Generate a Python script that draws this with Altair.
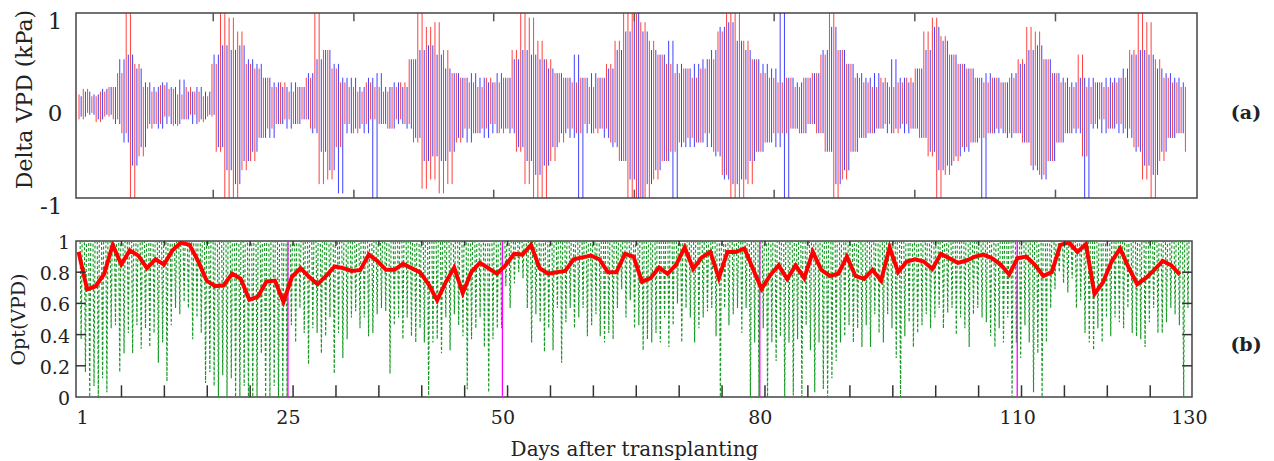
import altair as alt
import pandas as pd

FONT = "DejaVu Serif"

# ---- panel (a): Delta VPD, two values per day (peak, trough) ----
red_vpd = [
    0.12, -0.15, 0.18, -0.08, 0.1, -0.18, 0.15, -0.12, 0.2, -0.15,
    0.35, -0.3, 1.0, -1.0, 0.45, -0.55, 0.2, -0.25, 0.15, -0.2,
    0.22, -0.12, 0.18, -0.22, 0.12, -0.15, 0.2, -0.1, 0.15, -0.18,
    0.1, -0.12, 0.45, -0.5, 1.0, -1.0, 0.95, -1.0, 0.8, -0.7,
    0.45, -0.6, 0.4, -0.35, 0.3, -0.25, 0.2, -0.2, 0.25, -0.15,
    0.15, -0.2, 0.2, -0.15, 0.3, -0.25, 1.0, -0.85, 0.6, -0.8,
    0.4, -0.45, 0.25, -0.2, 0.2, -0.3, 0.15, -0.2, 0.25, -0.15,
    0.2, -0.2, 0.15, -0.25, 0.2, -0.15, 0.25, -0.2, 0.5, -0.4,
    1.0, -0.9, 0.85, -0.8, 0.9, -0.95, 0.6, -0.85, 0.35, -0.4,
    0.3, -0.25, 0.25, -0.3, 0.2, -0.25, 0.3, -0.2, 0.25, -0.3,
    0.3, -0.25, 0.6, -0.5, 1.0, -0.85, 0.95, -1.0, 0.7, -1.0,
    0.5, -0.6, 0.35, -0.4, 0.3, -0.25, 0.25, -0.3, 0.3, -0.2,
    0.2, -0.3, 0.3, -0.25, 0.45, -0.4, 0.7, -0.6, 1.0, -1.0,
    1.0, -1.0, 0.9, -1.0, 0.7, -0.8, 0.55, -0.6, 0.45, -0.5,
    0.35, -0.4, 0.4, -0.35, 0.3, -0.4, 0.4, -0.3, 0.5, -0.5,
    0.8, -0.75, 1.0, -1.0, 1.0, -1.0, 0.7, -0.85, 0.5, -0.5,
    0.35, -0.4, 0.3, -0.3, 0.25, -0.3, 0.3, -0.25, 0.2, -0.3,
    0.3, -0.2, 0.35, -0.3, 0.55, -0.5, 1.0, -1.0, 0.6, -0.8,
    0.45, -0.5, 0.3, -0.35, 0.25, -0.3, 0.2, -0.25, 0.3, -0.2,
    0.2, -0.3, 0.25, -0.2, 0.3, -0.25, 0.4, -0.35, 0.8, -0.55,
    0.95, -1.0, 0.75, -0.75, 0.55, -0.6, 0.45, -0.45, 0.4, -0.4,
    0.3, -0.35, 0.25, -0.3, 0.3, -0.25, 0.25, -0.3, 0.3, -0.3,
    0.5, -0.4, 0.85, -0.65, 0.8, -0.75, 0.5, -0.6, 0.35, -0.4,
    0.25, -0.3, 0.2, -0.25, 0.55, -0.55, 0.2, -0.2, 0.25, -0.15,
    0.2, -0.25, 0.25, -0.2, 0.3, -0.25, 0.6, -0.45, 1.0, -0.8,
    0.9, -1.0, 0.5, -0.6, 0.3, -0.35, 0.25, -0.3, 0.2, -0.5,
]
blue_vpd = [
    0.1, -0.12, 0.15, -0.1, 0.12, -0.15, 0.18, -0.1, 0.2, -0.2,
    0.5, -0.4, 0.55, -0.65, 0.4, -0.45, 0.25, -0.2, 0.2, -0.25,
    0.25, -0.2, 0.2, -0.2, 0.28, -0.15, 0.15, -0.2, 0.2, -0.15,
    0.15, -0.1, 0.55, -0.45, 0.65, -0.7, 0.6, -0.85, 0.65, -0.6,
    0.5, -0.5, 0.45, -0.35, 0.3, -0.35, 0.25, -0.2, 0.2, -0.25,
    0.25, -0.2, 0.2, -0.15, 0.35, -0.3, 0.5, -0.5, 0.6, -0.7,
    0.45, -0.95, 0.3, -0.3, 0.3, -0.25, 0.2, -0.3, 0.3, -1.0,
    0.35, -0.2, 0.2, -0.25, 0.25, -0.2, 0.2, -0.25, 0.5, -0.35,
    0.6, -0.6, 0.65, -0.55, 0.55, -0.6, 0.4, -0.5, 0.35, -0.35,
    0.3, -0.4, 0.35, -0.3, 0.3, -0.35, 0.25, -0.3, 0.35, -0.25,
    0.3, -0.3, 0.5, -0.45, 0.6, -0.6, 0.55, -0.75, 0.5, -0.65,
    0.4, -0.45, 0.35, -0.3, 0.3, -0.35, 0.55, -1.0, 0.3, -0.3,
    0.35, -0.25, 0.3, -0.35, 0.4, -0.45, 0.6, -0.6, 0.8, -0.8,
    1.0, -1.0, 0.8, -0.85, 0.6, -0.7, 0.55, -0.6, 0.7, -1.0,
    0.45, -0.45, 0.4, -0.45, 0.45, -0.4, 0.5, -0.45, 0.6, -0.55,
    0.85, -0.8, 0.9, -0.85, 0.7, -0.8, 0.6, -0.6, 0.5, -0.5,
    0.45, -0.4, 0.4, -0.45, 1.0, -1.0, 0.3, -0.25, 0.25, -0.3,
    0.3, -0.2, 0.35, -0.3, 0.6, -0.5, 0.85, -0.85, 0.6, -0.7,
    0.45, -0.5, 0.35, -0.35, 0.3, -0.3, 0.35, -0.25, 0.25, -0.3,
    0.5, -0.25, 0.3, -0.3, 0.25, -0.25, 0.4, -0.35, 0.6, -0.5,
    0.85, -0.7, 0.7, -0.65, 0.55, -0.55, 0.45, -0.5, 0.4, -0.4,
    0.3, -1.0, 0.35, -0.3, 0.3, -0.3, 0.25, -0.35, 0.35, -0.3,
    0.45, -0.4, 0.6, -0.7, 0.65, -0.8, 0.5, -0.6, 0.35, -0.4,
    0.3, -0.3, 0.25, -0.3, 0.3, -1.0, 0.3, -0.25, 0.25, -0.3,
    0.3, -0.25, 0.3, -0.3, 0.4, -0.35, 0.55, -0.5, 0.6, -0.65,
    0.55, -0.75, 0.4, -0.5, 0.35, -0.35, 0.3, -0.3, 0.25,
]

# ---- panel (b): Opt(VPD) dips, two per day ----
green_dips = [
    0.37, 0.16, 0.0, 0.07, 0.0, 0.12, 0.03, 0.44, 0.46, 0.16,
    0.28, 0.41, 0.28, 0.46, 0.31, 0.44, 0.32, 0.41, 0.22, 0.35,
    0.1, 0.46, 0.57, 0.53, 0.61, 0.57, 0.37, 0.51, 0.41, 0.09,
    0.16, 0.07, 0.0, 0.14, 0.0, 0.12, 0.0, 0.0, 0.07, 0.0,
    0.0, 0.0, 0.28, 0.0, 0.0, 0.07, 0.0, 0.0, 0.0,
    0.46, 0.35, 0.57, 0.41, 0.21, 0.44, 0.41, 0.28, 0.39, 0.51,
    0.15, 0.41, 0.25, 0.37, 0.51, 0.55, 0.44, 0.51, 0.39, 0.41,
    0.53, 0.57, 0.55, 0.15, 0.46, 0.51, 0.37, 0.51, 0.39, 0.35,
    0.44, 0.35, 0.01, 0.35, 0.37, 0.28, 0.51, 0.30, 0.53, 0.46,
    0.39, 0.05, 0.37, 0.44, 0.51, 0.32, 0.03, 0.37, 0.44,
    0.44, 0.71, 0.57, 0.73, 0.80, 0.76, 0.57, 0.35, 0.53, 0.48,
    0.29, 0.44, 0.30, 0.57, 0.22, 0.48, 0.57, 0.44, 0.51, 0.57,
    0.39, 0.46, 0.53, 0.39, 0.35, 0.41, 0.37, 0.57, 0.69, 0.51,
    0.62, 0.44,
    0.46, 0.30, 0.37, 0.35, 0.41, 0.35, 0.51, 0.32, 0.46, 0.60,
    0.35, 0.57, 0.51, 0.35, 0.44, 0.51, 0.55, 0.57, 0.39, 0.0,
    0.57, 0.46, 0.53, 0.57, 0.41, 0.57, 0.0, 0.35, 0.0, 0.44,
    0.0, 0.35, 0.23, 0.39, 0.0, 0.35, 0.01, 0.37, 0.0, 0.46,
    0.30, 0.03, 0.35, 0.05, 0.0, 0.12, 0.23, 0.35, 0.39, 0.46,
    0.35, 0.44, 0.32, 0.46, 0.32, 0.53, 0.41, 0.35, 0.53, 0.44,
    0.25, 0.0, 0.39, 0.48, 0.32, 0.41, 0.46, 0.53, 0.44, 0.51,
    0.57, 0.44, 0.54, 0.57, 0.40, 0.51, 0.44, 0.32, 0.53, 0.57,
    0.51, 0.48, 0.39, 0.32, 0.44, 0.35, 0.51, 0.0, 0.35, 0.25,
    0.46, 0.35, 0.03, 0.28, 0.0, 0.35, 0.57, 0.69, 0.80, 0.73,
    0.67, 0.76, 0.57, 0.62, 0.41, 0.35, 0.30, 0.44, 0.35, 0.51,
    0.39, 0.51, 0.48,
    0.44, 0.57, 0.41, 0.39, 0.37, 0.32, 0.48, 0.57, 0.41, 0.41,
    0.48, 0.57, 0.53, 0.46, 0.0, 0.57,
]
# daily mean Opt(VPD)
red_opt = [
    0.93, 0.69, 0.71, 0.79, 0.975, 0.85, 0.94, 0.906, 0.826, 0.883,
    0.849, 0.94, 0.99, 0.975, 0.872, 0.746, 0.711, 0.716, 0.79, 0.757,
    0.624, 0.643, 0.739, 0.746, 0.609, 0.77, 0.826, 0.77, 0.723, 0.776,
    0.837, 0.826, 0.808, 0.815, 0.913, 0.872, 0.815, 0.815, 0.853, 0.826,
    0.799, 0.723, 0.62, 0.735, 0.83, 0.666, 0.80, 0.86, 0.826, 0.79,
    0.844, 0.917, 0.913, 0.975, 0.826, 0.79, 0.80, 0.808, 0.883, 0.895,
    0.906, 0.883, 0.80, 0.80, 0.917, 0.90, 0.739, 0.762, 0.83, 0.79,
    0.849, 0.959, 0.821, 0.895, 0.93, 0.762, 0.93, 0.93, 0.952, 0.821,
    0.693, 0.78, 0.844, 0.757, 0.844, 0.762, 0.93, 0.815, 0.776, 0.79,
    0.90, 0.776, 0.757, 0.815, 0.746, 0.959, 0.80, 0.868, 0.883, 0.868,
    0.821, 0.917, 0.89, 0.86, 0.875, 0.90, 0.913, 0.89, 0.849, 0.785,
    0.89, 0.90, 0.849, 0.776, 0.80, 0.975, 0.99, 0.93, 0.98, 0.66,
    0.735, 0.868, 0.952, 0.83, 0.723, 0.762, 0.815, 0.872, 0.844, 0.785,
]

marker_days = [25, 50, 80, 110]
x_labels = [1, 25, 50, 80, 110, 130]
opt_labels = [0, 0.2, 0.4, 0.6, 0.8, 1]
opt_label_text = ["0", "0.2", "0.4", "0.6", "0.8", "1"]
top_tick_days = [16.3, 32.7, 49.0, 65.4, 81.7, 98.1, 114.5]
bottom_tick_days = [5.6, 10.6, 15.6, 20.6, 25.6, 30.6, 35.6, 40.6, 45.6, 50.6,
                    55.6, 60.6, 65.6, 70.6, 75.6, 80.6, 85.6, 90.5, 95.5, 100.5,
                    105.5, 110.5, 115.5, 120.5, 125.5]
opt_tick_vals = [0.2, 0.4, 0.6, 0.8]

X0, X1_TOP, X1_BOT = 0.3, 131.0, 130.37


# ---------------- tables ----------------
def swings(values, t0):
    """Vertical stroke between each pair of consecutive readings."""
    times = [t0 + 0.5 * i for i in range(len(values))]
    return pd.DataFrame({
        "t": [(times[k] + times[k + 1]) / 2 for k in range(len(values) - 1)],
        "v": values[:-1],
        "v2": values[1:],
    })


red_df = swings(red_vpd, 0.4)
blue_df = swings(blue_vpd, 0.65)

g_rows = []
for i, d in enumerate(green_dips):
    tc = 0.9 + 0.5 * i
    g_rows += [{"t": tc - 0.12, "v": 1.0}, {"t": tc, "v": d}, {"t": tc + 0.12, "v": 1.0}]
green_df = pd.DataFrame(g_rows)
ropt_df = pd.DataFrame({"t": [0.6 + 0.995 * i for i in range(len(red_opt))], "v": red_opt})

top_ticks = pd.DataFrame(
    [{"t": d, "v": 1.0, "v2": 0.91} for d in top_tick_days]
    + [{"t": d, "v": -1.0, "v2": -0.91} for d in top_tick_days]
)
bot_xticks = pd.DataFrame(
    [{"t": d, "v": 0.0, "v2": 0.075} for d in bottom_tick_days]
    + [{"t": d, "v": 1.0, "v2": 0.97} for d in bottom_tick_days]
)
bot_yticks = pd.DataFrame(
    [{"t": X0, "t2": X0 + 1.15, "v": y} for y in opt_tick_vals]
    + [{"t": X1_BOT - 1.15, "t2": X1_BOT, "v": y} for y in opt_tick_vals]
)
markers = pd.DataFrame({"t": marker_days, "v": [0.0] * 4, "v2": [1.0] * 4})
opt_lab_df = pd.DataFrame({"v": opt_labels, "lab": opt_label_text})

# ---------------- panel (a) ----------------
xs_top = alt.Scale(domain=[X0, X1_TOP], nice=False, zero=False)
ys_top = alt.Scale(domain=[-1, 1], nice=False)
y_axis_top = alt.Axis(
    values=[-1, 0, 1], title="Delta VPD (kPa)", grid=False, ticks=False, domain=False,
    labelFont=FONT, labelFontSize=23, labelOffset=8, labelPadding=14, labelColor="#222",
    labelExpr="datum.value < 0 ? '-1' : (datum.value > 0 ? '1' : '0')",
    titleFont=FONT, titleFontSize=22, titleFontWeight="normal", titleColor="#222",
    titlePadding=3, titleY=86,
)

red_line = alt.Chart(red_df).mark_rule(color="#ff0000", strokeWidth=0.75, clip=True).encode(
    x=alt.X("t:Q", scale=xs_top, axis=None),
    y=alt.Y("v:Q", scale=ys_top, axis=y_axis_top),
    y2="v2:Q",
)
blue_line = alt.Chart(blue_df).mark_rule(color="#0000ff", strokeWidth=0.75, clip=True).encode(
    x="t:Q", y="v:Q", y2="v2:Q",
)
top_tick_marks = alt.Chart(top_ticks).mark_rule(color="#555", strokeWidth=1.5).encode(
    x="t:Q", y="v:Q", y2="v2:Q"
)
label_a = alt.Chart(pd.DataFrame({"lab": ["(a)"]})).mark_text(
    font=FONT, fontSize=19, fontWeight="bold", color="#222", align="center", baseline="middle"
).encode(text="lab:N", x=alt.value(1170), y=alt.value(100))

top = alt.layer(red_line, blue_line, top_tick_marks, label_a).properties(width=1121, height=185)

# ---------------- panel (b) ----------------
xs_bot = alt.Scale(domain=[X0, X1_BOT], nice=False, zero=False)
ys_bot = alt.Scale(domain=[0, 1], nice=False)
x_axis_bot = alt.Axis(
    values=x_labels, title="Days after transplanting", grid=False, ticks=False, domain=False,
    labelFont=FONT, labelFontSize=19, labelPadding=11, labelColor="#222", labelOverlap=False,
    titleFont=FONT, titleFontSize=20, titleFontWeight="normal", titleColor="#222", titlePadding=12,
)
y_axis_bot = alt.Axis(
    values=opt_labels, labels=False, title="Opt(VPD)", grid=False, ticks=False, domain=False,
    titleFont=FONT, titleFontSize=19, titleFontWeight="normal", titleColor="#222", titlePadding=48,
)

green_line = alt.Chart(green_df).mark_line(
    color="#169a24", strokeWidth=1.15, strokeDash=[3, 2], clip=True
).encode(
    x=alt.X("t:Q", scale=xs_bot, axis=x_axis_bot),
    y=alt.Y("v:Q", scale=ys_bot, axis=y_axis_bot),
)
marker_rules = alt.Chart(markers).mark_rule(color="#ff00ff", strokeWidth=1.3).encode(
    x="t:Q", y="v:Q", y2="v2:Q"
)
red_thick = alt.Chart(ropt_df).mark_line(color="#ff0000", strokeWidth=4, clip=True).encode(
    x="t:Q", y="v:Q"
)
bx_marks = alt.Chart(bot_xticks).mark_rule(color="#333", strokeWidth=1.5).encode(
    x="t:Q", y="v:Q", y2="v2:Q"
)
by_marks = alt.Chart(bot_yticks).mark_rule(color="#333", strokeWidth=1.5).encode(
    x="t:Q", x2="t2:Q", y="v:Q"
)
opt_labels_text = alt.Chart(opt_lab_df).mark_text(
    font=FONT, fontSize=19, color="#222", align="right", baseline="middle", dy=2
).encode(y="v:Q", x=alt.value(-6), text="lab:N")
label_b = alt.Chart(pd.DataFrame({"lab": ["(b)"]})).mark_text(
    font=FONT, fontSize=19, fontWeight="bold", color="#222", align="center", baseline="middle"
).encode(text="lab:N", x=alt.value(1170), y=alt.value(104))

bottom = alt.layer(
    green_line, marker_rules, red_thick, bx_marks, by_marks, opt_labels_text, label_b
).properties(width=1116, height=156)

chart = (
    alt.vconcat(top, bottom, spacing=43, bounds="flush")
    .resolve_scale(x="independent", y="independent")
    .configure_view(stroke="#444", strokeWidth=1.5)
    .properties(padding={"left": 0, "top": 0, "right": 0, "bottom": 0}, background="white")
)

chart.save("out.html", embed_options={"renderer": "svg", "actions": False})
